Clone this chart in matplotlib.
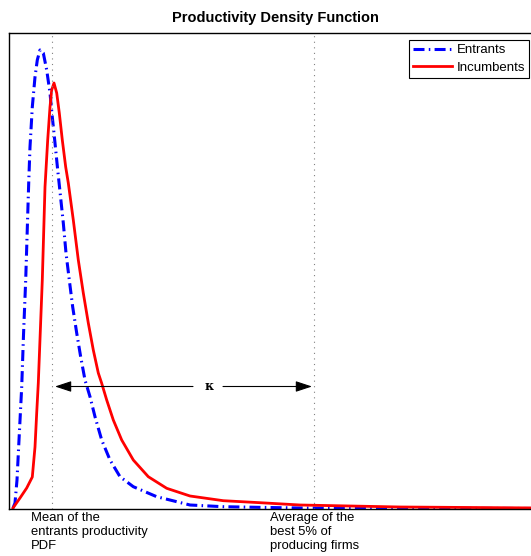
import matplotlib.pyplot as plt
import numpy as np

# productivity (arbitrary units) and densities
x_entrants = [0.08, 0.12, 0.16, 0.20, 0.254, 0.29, 0.334, 0.396, 0.42, 0.466, 0.52,
              0.566, 0.62, 0.686, 0.754, 0.82, 0.866, 0.92, 0.974, 1.006, 1.086, 1.14,
              1.206, 1.274, 1.354, 1.434, 1.52, 1.62, 1.72, 1.854, 2.02, 2.22, 2.486,
              2.954, 3.62, 4.28, 4.954, 5.82, 7.82, 10.64]
y_entrants = [0.01, 0.06, 0.29, 0.69, 1.22, 1.74, 2.29, 3.29, 3.62, 4.02, 4.32,
              4.49, 4.59, 4.56, 4.39, 4.16, 3.92, 3.66, 3.39, 3.24, 2.86, 2.56,
              2.29, 2.02, 1.76, 1.52, 1.29, 1.123, 0.923, 0.69, 0.49, 0.323, 0.223,
              0.123, 0.04, 0.023, 0.017, 0.01, 0.007, 0.005]

x_incumbents = [0.08, 0.22, 0.354, 0.466, 0.52, 0.554, 0.586, 0.666, 0.72, 0.774, 0.82,
                0.854, 0.90, 0.954, 1.006, 1.066, 1.134, 1.186, 1.286, 1.386, 1.486,
                1.586, 1.686, 1.786, 1.854, 1.954, 2.086, 2.254, 2.486, 2.786, 3.154,
                3.62, 4.286, 5.02, 5.82, 7.82, 10.64]
y_incumbents = [0.01, 0.11, 0.21, 0.32, 0.62, 0.96, 1.26, 2.29, 3.22, 3.69, 4.02,
                4.19, 4.26, 4.16, 3.96, 3.69, 3.42, 3.26, 2.89, 2.49, 2.16,
                1.86, 1.59, 1.36, 1.257, 1.09, 0.89, 0.69, 0.49, 0.323, 0.207,
                0.13, 0.083, 0.063, 0.04, 0.02, 0.01]

mean_entrants = 0.86
best5_average = 6.10
kappa_level = 1.225
line_labels = ['Entrants', 'Incumbents']

fig = plt.figure(figsize=(5.31, 5.56), dpi=100)
ax = fig.add_axes([9 / 531, 1 - 509 / 556, 532 / 531, 476 / 556])

ax.plot(x_entrants, y_entrants, color='blue', lw=2.2,
        linestyle=(0, (3.6, 1.4, 0.5, 1.4)), label=line_labels[0])
ax.plot(x_incumbents, y_incumbents, color='red', lw=2.0, label=line_labels[1])

for xv in [mean_entrants, best5_average]:
    ax.axvline(xv, color='0.5', lw=0.8, linestyle=(0, (1, 4)))

# kappa arrows between the two reference levels
kx = 4.0
ax.text(kx, kappa_level, '\u03ba', ha='center', va='center', fontsize=9,
        family='DejaVu Serif', fontweight='bold')
style = dict(arrowstyle='-|>,head_length=1.0,head_width=0.33',
             color='black', lw=0.8, shrinkA=0, shrinkB=0)
ax.annotate('', xy=(mean_entrants + 0.06, kappa_level), xytext=(kx - 0.32, kappa_level),
            arrowprops=style)
ax.annotate('', xy=(best5_average - 0.04, kappa_level), xytext=(kx + 0.28, kappa_level),
            arrowprops=style)

ax.set_xlim(0, 10.64)
ax.set_ylim(0, 4.76)
ax.set_xticks([])
ax.set_yticks([])
for s in ax.spines.values():
    s.set_linewidth(1.0)

ax.set_title('Productivity Density Function', fontsize=10.5, fontweight='bold',
             family='Liberation Sans', pad=8)

ax.text(0.44, -0.03, 'Mean of the\nentrants productivity\nPDF', ha='left', va='top',
        fontsize=9.4, family='Liberation Sans', linespacing=1.2, clip_on=False)
ax.text(5.22, -0.03, 'Average of the\nbest 5% of\nproducing firms', ha='left', va='top',
        fontsize=9.4, family='Liberation Sans', linespacing=1.2, clip_on=False)

leg = ax.legend(loc='upper left', bbox_to_anchor=(400 / 532, 1 - 7 / 476),
                prop={'family': 'Liberation Sans', 'size': 9.5}, fancybox=False,
                edgecolor='black', framealpha=1, borderpad=0.3, labelspacing=0.4,
                handlelength=2.95, handletextpad=0.38, borderaxespad=0)
leg.get_frame().set_linewidth(0.8)

fig.savefig('out.png', dpi=100)
